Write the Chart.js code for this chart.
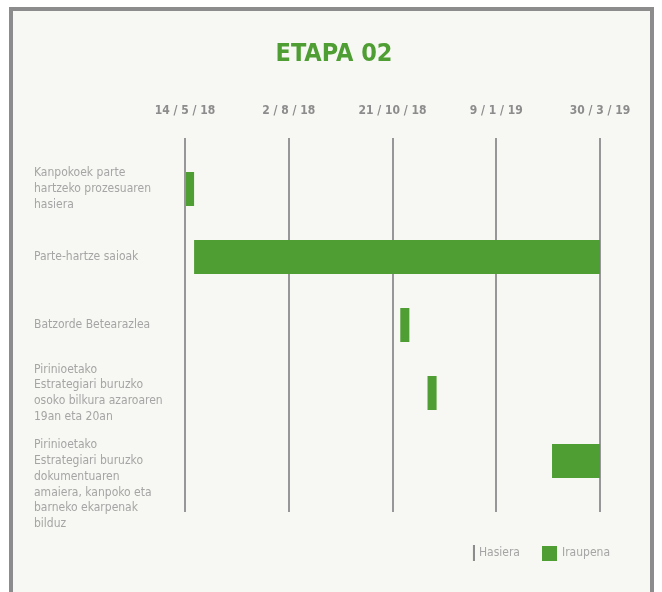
<!DOCTYPE html>
<html>
<head>
<meta charset="utf-8">
<script src="https://cdn.jsdelivr.net/npm/chart.js@4/dist/chart.umd.min.js"></script>
<style>
  html, body { margin: 0; padding: 0; background: #ffffff; }
  .frame {
    position: absolute; left: 9px; top: 7px;
    width: 637px; height: 600px;
    border: 4px solid #8c8c8c;
    background: #f7f8f3;
  }
  .wrap { position: relative; width: 637px; height: 581px; }
</style>
</head>
<body>
<div class="frame"><div class="wrap"><canvas id="gantt"></canvas></div></div>
<script>
// ── Data ────────────────────────────────────────────────────
const tasks = [
  ['Kanpokoek parte', 'hartzeko prozesuaren', 'hasiera'],
  'Parte-hartze saioak',
  'Batzorde Betearazlea',
  ['Pirinioetako', 'Estrategiari buruzko', 'osoko bilkura azaroaren', '19an eta 20an'],
  ['', '', '', 'Pirinioetako', 'Estrategiari buruzko', 'dokumentuaren', 'amaiera, kanpoko eta', 'barneko ekarpenak', 'bilduz'],
];
const startDates = ['2018-05-14', '2018-05-21', '2018-10-27', '2018-11-17', '2019-02-21'];
const endDates   = ['2018-05-21', '2019-03-30', '2018-11-03', '2018-11-24', '2019-03-30'];

const axisStart = '2018-05-14';
const axisEnd   = '2019-03-30';
const tickStepDays = 80;
const seriesNames = ['Hasiera', 'Iraupena'];

// ── Helpers ─────────────────────────────────────────────────
const DAY = 86400000;
const toDay = s => Date.parse(s + 'T00:00:00Z') / DAY;
const base = toDay(axisStart);
const offset = s => toDay(s) - base;

function fmtDate(dayOffset) {
  const d = new Date((base + dayOffset) * DAY);
  return `${d.getUTCDate()} / ${d.getUTCMonth() + 1} / ${String(d.getUTCFullYear()).slice(2)}`;
}

// small solid glyphs for the legend (x0 = left of the filled part)
function glyph(w, h, x0, fw, color) {
  const c = document.createElement('canvas');
  c.width = w; c.height = h;
  const g = c.getContext('2d');
  g.fillStyle = color;
  g.fillRect(x0, 0, fw, h);
  return c;
}

const hasiera  = startDates.map(offset);
const iraupena = endDates.map((e, i) => offset(e) - hasiera[i]);

const GREEN = '#4f9e34';
const LINE  = '#979797';
const TEXT  = '#a5a5a5';
const FONT  = "'Liberation Sans Narrow', 'DejaVu Sans Condensed', sans-serif";

const legendGlyphs = [glyph(16, 16, 14, 2, '#8c8c8c'), glyph(15, 15, 0, 15, GREEN)];

new Chart(document.getElementById('gantt'), {
  type: 'bar',
  data: {
    labels: tasks,
    datasets: [
      { label: seriesNames[0], data: hasiera,  backgroundColor: 'rgba(0,0,0,0)' },
      { label: seriesNames[1], data: iraupena, backgroundColor: GREEN },
    ],
  },
  options: {
    indexAxis: 'y',
    responsive: true,
    maintainAspectRatio: false,
    animation: false,
    categoryPercentage: 1,
    barPercentage: 0.5,
    layout: { padding: { left: 21, right: 16, top: 0, bottom: 23 } },
    scales: {
      x: {
        type: 'linear',
        position: 'top',
        stacked: true,
        min: 0,
        max: offset(axisEnd),
        border: { display: false },
        grid: { color: LINE, lineWidth: 2, tickLength: 17 },
        ticks: {
          stepSize: tickStepDays,
          padding: 19.5,
          color: '#8c8c8c',
          font: { family: FONT, size: 12, weight: 'bold' },
          callback: v => fmtDate(v),
        },
      },
      x2: {
        type: 'linear',
        position: 'bottom',
        min: 0,
        max: offset(axisEnd),
        border: { display: false },
        grid: { color: LINE, lineWidth: 2, tickLength: 17, drawOnChartArea: false },
        ticks: { stepSize: tickStepDays, display: false },
        afterFit: s => { s.height = 28; },
      },
      y: {
        stacked: true,
        border: { display: false },
        grid: { display: false },
        ticks: {
          autoSkip: false,
          crossAlign: 'far',
          color: TEXT,
          font: { family: FONT, size: 12, lineHeight: 1.31 },
        },
        afterFit: s => { s.width = 151; },
      },
      yr: {
        type: 'linear',
        position: 'right',
        border: { display: false },
        grid: { display: false },
        ticks: { display: false },
        afterFit: s => { s.width = 34; },
      },
    },
    plugins: {
      title: {
        display: true,
        text: 'ETAPA 02',
        color: GREEN,
        font: { family: FONT, size: 25, weight: 'bold' },
        padding: { top: 28, bottom: 15.6 },
      },
      legend: {
        position: 'bottom',
        align: 'end',
        labels: {
          usePointStyle: true,
          padding: 24,
          color: TEXT,
          font: { family: FONT, size: 12 },
          generateLabels: chart => chart.data.datasets.map((ds, i) => ({
            text: ds.label,
            datasetIndex: i,
            pointStyle: legendGlyphs[i],
            lineWidth: 0,
            fontColor: TEXT,
          })),
        },
      },
      tooltip: { enabled: false },
    },
  },
});
</script>
</body>
</html>
